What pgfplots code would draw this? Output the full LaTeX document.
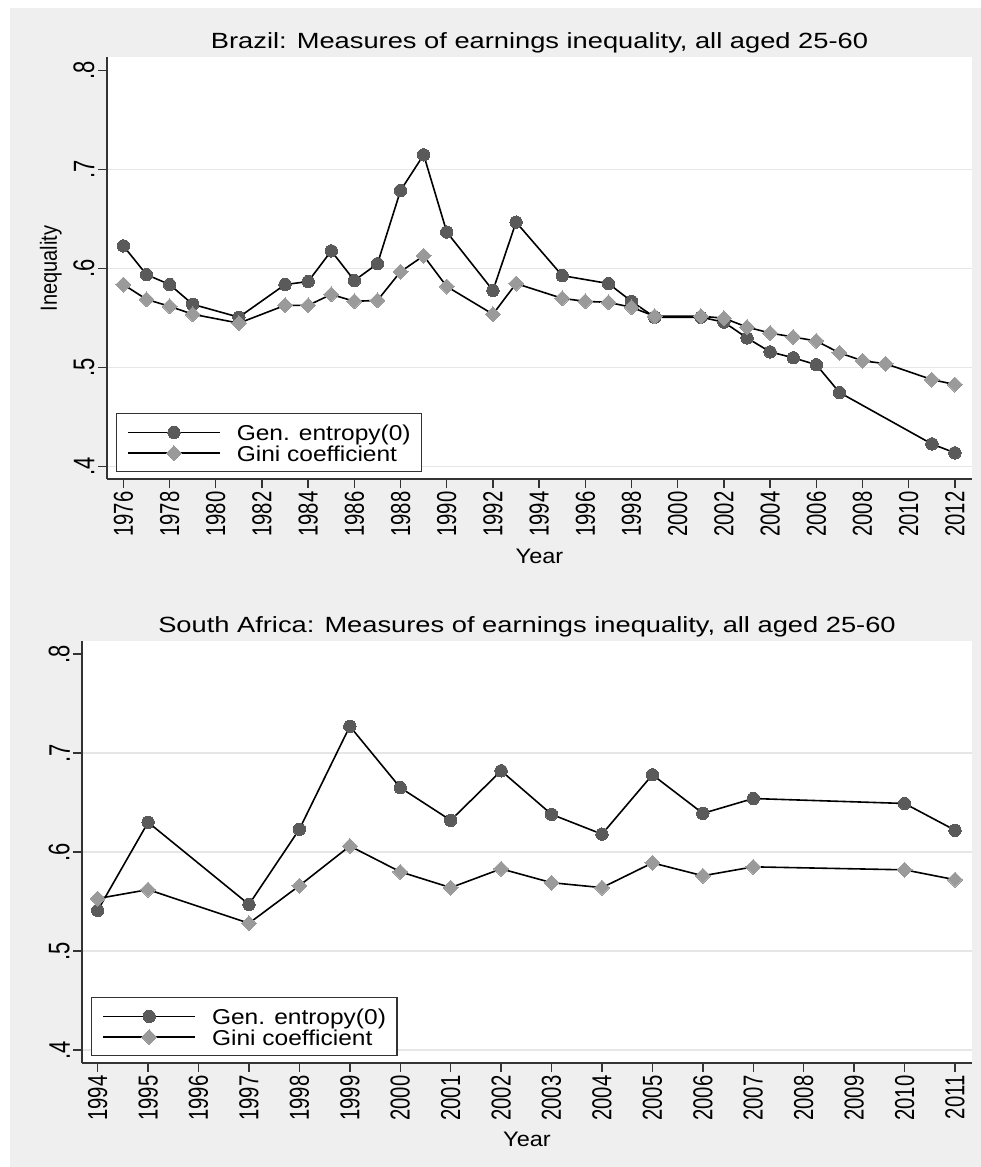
\documentclass[border=0pt]{standalone}
\usepackage{fontspec}
\setmainfont{Liberation Sans}
\newfontfamily\fTitle[FakeStretch=1.24]{Liberation Sans}
\newfontfamily\fLeg[FakeStretch=1.14]{Liberation Sans}
\newfontfamily\fLab[FakeStretch=1.12]{Liberation Sans}
\usepackage{graphicx}
\usepackage{pgfplots}
\pgfplotsset{compat=1.18}
\definecolor{bggrey}{HTML}{EFEFEF}
\definecolor{gecol}{HTML}{5A5A5A}
\definecolor{ginicol}{HTML}{9A9A9A}
\definecolor{gridcol}{HTML}{E6E6E6}
\definecolor{axcol}{HTML}{333333}
\newcommand\rs[1]{\scalebox{1}[1.35]{#1}}

\pgfplotsset{
 mystyle/.style={
  scale only axis, axis lines*=left,
  axis line style={axcol, line width=1.8pt, -},
  axis background/.style={fill=white},
  tick align=outside, major tick length=9pt,
  tick style={axcol, line width=1.4pt},
  ytick={0.4,0.5,0.6,0.7}, yticklabels={\rs{.4},\rs{.5},\rs{.6},\rs{.7}},
  extra y ticks={0.8}, extra y tick labels={\rs{.8}}, extra y tick style={grid=none},
  ymajorgrids, grid style={gridcol, line width=1.5pt},
  yticklabel style={rotate=90, anchor=south, font=\fontsize{22}{22}\selectfont},
  xticklabel style={rotate=90, anchor=east, font=\fontsize{20.3}{20.3}\selectfont},
  legend style={at={(0,0)}, anchor=south west, xshift=8.5pt, yshift=6.5pt,
    draw=axcol, fill=white,
    font=\fLeg\fontsize{21.5}{21.5}\selectfont,
    inner xsep=11pt, inner ysep=8.4pt, row sep=0pt, column sep=16pt,
    nodes={inner sep=0pt, text height=18.7pt, text depth=2pt}},
  every axis legend/.append style={line width=1.3pt},
  legend cell align=left,
  legend image code/.code={\draw[mark repeat=2, mark phase=2, ##1, line width=1.6pt] plot coordinates {(0pt,0pt) (46pt,0pt) (92pt,0pt)};},
 },
 geplot/.style={black, line width=1.6pt, mark=*, mark size=6.2pt, mark options={fill=gecol, draw=gecol, line width=0pt}},
 giniplot/.style={black, line width=1.6pt, mark=square*, mark size=5.3pt, mark options={fill=ginicol, draw=ginicol, rotate=45, line width=0pt}},
}

\begin{document}
\begin{tikzpicture}[x=1pt, y=1pt]
\fill[white] (0pt,0pt) rectangle (981pt,1167pt);
\fill[bggrey] (10pt,0pt) rectangle (981pt,1159pt);

% ---------- Brazil ----------
\begin{axis}[mystyle, at={(107pt,688pt)}, anchor=south west,
  width=865pt, height=422pt,
  xmin=1975.29, xmax=2012.74, ymin=0.3876, ymax=0.8138,
  xtick={1976,1978,...,2012},
  xticklabels={\rs{1976},\rs{1978},\rs{1980},\rs{1982},\rs{1984},\rs{1986},\rs{1988},\rs{1990},\rs{1992},\rs{1994},\rs{1996},\rs{1998},\rs{2000},\rs{2002},\rs{2004},\rs{2006},\rs{2008},\rs{2010},\rs{2012}},
]
\addplot[geplot] coordinates {
(1976,0.623) (1977,0.594) (1978,0.584) (1979,0.564) (1981,0.551)
(1983,0.584) (1984,0.587) (1985,0.618) (1986,0.588) (1987,0.605)
(1988,0.679) (1989,0.715) (1990,0.637) (1992,0.578) (1993,0.647)
(1995,0.593) (1997,0.585) (1998,0.567) (1999,0.551) (2001,0.551)
(2002,0.546) (2003,0.530) (2004,0.516) (2005,0.510) (2006,0.503)
(2007,0.475) (2011,0.423) (2012,0.414)};
\addlegendentry{Gen. entropy(0)\hspace{10pt}}
\addplot[giniplot] coordinates {
(1976,0.584) (1977,0.569) (1978,0.562) (1979,0.554) (1981,0.545)
(1983,0.563) (1984,0.563) (1985,0.574) (1986,0.567) (1987,0.568)
(1988,0.597) (1989,0.613) (1990,0.582) (1992,0.554) (1993,0.585)
(1995,0.570) (1996,0.567) (1997,0.566) (1998,0.561) (1999,0.552)
(2001,0.552) (2002,0.550) (2003,0.541) (2004,0.535) (2005,0.531)
(2006,0.527) (2007,0.515) (2008,0.507) (2009,0.504) (2011,0.488)
(2012,0.483)};
\addlegendentry{Gini coefficient}
\end{axis}

% ---------- South Africa ----------
\begin{axis}[mystyle, at={(82.3pt,104pt)}, anchor=south west,
  width=889.7pt, height=422pt,
  xmin=1993.695, xmax=2011.337, ymin=0.3869, ymax=0.8131,
  xtick={1994,1995,...,2011},
  xticklabels={\rs{1994},\rs{1995},\rs{1996},\rs{1997},\rs{1998},\rs{1999},\rs{2000},\rs{2001},\rs{2002},\rs{2003},\rs{2004},\rs{2005},\rs{2006},\rs{2007},\rs{2008},\rs{2009},\rs{2010},\rs{2011}},
]
\addplot[geplot] coordinates {
(1994,0.541) (1995,0.630) (1997,0.547) (1998,0.623) (1999,0.727)
(2000,0.665) (2001,0.632) (2002,0.682) (2003,0.638) (2004,0.618)
(2005,0.678) (2006,0.639) (2007,0.654) (2010,0.649) (2011,0.622)};
\addlegendentry{Gen. entropy(0)\hspace{10pt}}
\addplot[giniplot] coordinates {
(1994,0.553) (1995,0.562) (1997,0.528) (1998,0.566) (1999,0.606)
(2000,0.580) (2001,0.564) (2002,0.583) (2003,0.569) (2004,0.564)
(2005,0.589) (2006,0.576) (2007,0.585) (2010,0.582) (2011,0.572)};
\addlegendentry{Gini coefficient}
\end{axis}

% titles and axis labels
\node[anchor=base, font=\fTitle\fontsize{22}{22}\selectfont, inner sep=0pt] at (539.5pt,1118pt) {Brazil: Measures of earnings inequality, all aged 25-60};
\node[anchor=base, font=\fTitle\fontsize{22}{22}\selectfont, inner sep=0pt] at (527pt,534pt) {South Africa: Measures of earnings inequality, all aged 25-60};
\node[anchor=base, font=\fLab\fontsize{21}{21}\selectfont, inner sep=0pt] at (539.5pt,603.7pt) {Year};
\node[anchor=base, font=\fLab\fontsize{21}{21}\selectfont, inner sep=0pt] at (527pt,20.3pt) {Year};
\node[anchor=base, rotate=90, font=\fontsize{20}{20}\selectfont, inner sep=0pt] at (56.8pt,898.5pt) {\scalebox{1}[1.17]{Inequality}};

\pgfresetboundingbox
\path[use as bounding box] (0pt,0pt) rectangle (981pt,1167pt);
\end{tikzpicture}
\end{document}
